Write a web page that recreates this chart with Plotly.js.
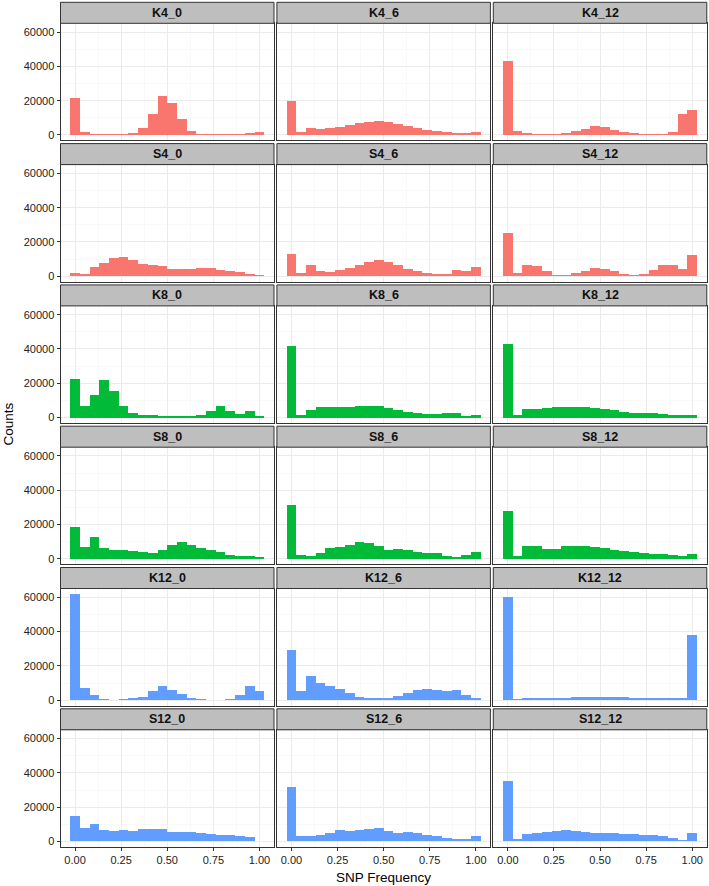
<!DOCTYPE html>
<html>
<head>
<meta charset="utf-8">
<script src="https://cdn.plot.ly/plotly-3.0.1.min.js"></script>
<style>html,body{margin:0;padding:0;background:#fff;}#chart{width:709px;height:886px;}</style>
</head>
<body>
<div id="chart"></div>
<script>
// Bin centres (20 bins spanning 0..1)
const binCenters = [0.000,0.0526,0.1053,0.1579,0.2105,0.2632,0.3158,0.3684,0.4211,0.4737,0.5263,0.5789,0.6316,0.6842,0.7368,0.7895,0.8421,0.8947,0.9474,1.000];
const binWidth = 0.05263;

const panelNames = ["K4_0","K4_6","K4_12","S4_0","S4_6","S4_12","K8_0","K8_6","K8_12","S8_0","S8_6","S8_12","K12_0","K12_6","K12_12","S12_0","S12_6","S12_12"];
const groupColors = {"4":"#F8766D","8":"#00BA38","12":"#619CFF"};

const K4_0  = [21300,1900,400,400,400,500,1000,3900,12000,23000,18600,9500,2300,600,400,400,400,400,1100,1500];
const K4_6  = [19800,1900,4100,3300,4100,4900,5800,7200,7800,8100,7600,6400,5200,4100,3100,2500,1700,1400,1200,1600];
const K4_12 = [42900,2100,1200,400,400,800,1400,2300,3700,5200,4500,2900,1700,1200,800,600,600,1700,12400,14400];
const S4_0  = [2100,1400,5200,7800,10700,11100,9300,7200,6400,5800,4500,4300,4300,4900,4900,3900,2900,2500,1400,600];
const S4_6  = [12800,2100,6400,3100,2300,3500,5000,6600,8300,9700,8300,6600,4500,3100,1900,1600,1600,3700,3100,5400];
const S4_12 = [25400,1700,6400,5800,2900,1000,800,1700,3300,4900,4300,2900,1600,800,1600,3700,6800,6800,4500,12200];
const K8_0  = [22500,6800,13400,21900,15500,6600,2700,1700,1400,1000,800,1000,1200,1400,3900,6800,3700,2100,3900,1000];
const K8_6  = [41900,1600,4500,6000,6000,6000,6400,6600,6600,6600,5400,4500,3500,2700,2300,2300,2900,2500,1000,1400];
const K8_12 = [42900,1400,4900,4900,5600,6000,6200,6200,6000,5400,4900,4300,3500,2900,2500,2500,2300,1700,1600,1600];
const S8_0  = [18800,7000,13000,6600,5400,5200,4700,4100,3700,5400,8300,9900,8100,6400,5400,4100,2500,1900,1700,1000];
const S8_6  = [31600,2500,1600,3300,6200,7000,8100,10100,9300,7600,5400,6000,5400,4300,3700,3300,1700,1000,2500,3900];
const S8_12 = [28100,1900,7800,7400,5600,5800,7400,7800,7400,7000,6200,5200,4700,3900,3300,2700,2900,2500,1900,2900];
const K12_0 = [62000,7000,3200,600,400,500,1000,2000,5500,8500,6000,3500,1500,500,400,400,500,3000,8500,5500];
const K12_6 = [29000,5500,14000,10000,8500,6500,4000,2000,1000,1000,1500,2500,4000,6000,6500,6000,5500,6000,3000,1500];
const K12_12= [60000,500,1000,1200,1300,1400,1500,1600,1700,1800,1800,1700,1600,1500,1400,1300,1200,1200,1500,38000];
const S12_0 = [15000,8000,10000,6500,6000,6500,6000,7000,7500,7500,5500,5500,5500,5000,4500,4000,3500,3000,2500,500];
const S12_6 = [32000,3000,3000,3500,5000,6500,6000,6500,7000,8000,6000,5000,5500,5000,4000,3000,2000,1500,1500,3000];
const S12_12= [35000,1500,4500,5000,5500,6000,6500,6000,5500,5000,5000,5000,4500,4500,4000,3500,3000,2000,1000,5000];

const panelValues = [K4_0,K4_6,K4_12,S4_0,S4_6,S4_12,K8_0,K8_6,K8_12,S8_0,S8_6,S8_12,K12_0,K12_6,K12_12,S12_0,S12_6,S12_12];

const xTickVals = [0,0.25,0.5,0.75,1];
const xTickText = ["0.00","0.25","0.50","0.75","1.00"];
const yTickVals = [0,20000,40000,60000];
const yTickText = ["0","20000","40000","60000"];

// Layout geometry (pixels)
const W = 709, H = 886;
const colLeft = [60.5, 276.9, 493.3];
const panelW = 213.5;
const rowPitch = 141.3, firstStripTop = 2.3, stripH = 21, plotH = 117;

const FONT = "Liberation Sans, Arial, Helvetica, sans-serif";
const traces = [];
const layout = {
  width: W, height: H,
  margin: {l:0, r:0, t:0, b:0},
  paper_bgcolor: "#ffffff", plot_bgcolor: "#ffffff",
  showlegend: false, bargap: 0,
  font: {family: FONT, size: 11, color: "#333333"},
  shapes: [], annotations: []
};

panelNames.forEach((name, i) => {
  const r = Math.floor(i / 3), c = i % 3;
  const grp = name.match(/^[KS](\d+)_/)[1];
  const n = i + 1;
  const xa = n === 1 ? "x" : "x" + n;
  const ya = n === 1 ? "y" : "y" + n;
  traces.push({
    type: "bar", x: binCenters, y: panelValues[i], width: binWidth,
    xaxis: xa, yaxis: ya,
    marker: {color: groupColors[grp], line: {width: 0}},
    hoverinfo: "x+y"
  });
  const stripTop = firstStripTop + r * rowPitch;
  const plotTop = stripTop + stripH;
  const x0 = colLeft[c] / W, x1 = (colLeft[c] + panelW) / W;
  const yTop = 1 - plotTop / H, yBot = 1 - (plotTop + plotH) / H;
  const bottomRow = r === 5, leftCol = c === 0;
  layout["xaxis" + (n === 1 ? "" : n)] = {
    domain: [x0, x1], anchor: ya, range: [-0.0789, 1.0789],
    tickvals: xTickVals, ticktext: xTickText,
    showticklabels: bottomRow, ticks: bottomRow ? "outside" : "", ticklen: 3, tickcolor: "#333333",
    tickfont: {family: FONT, size: 11, color: "#222222"},
    showgrid: true, gridcolor: "#EBEBEB", gridwidth: 1,
    minor: {tickvals: [0.125,0.375,0.625,0.875], showgrid: true, gridcolor: "#F5F5F5", gridwidth: 0.6, ticks: ""},
    zeroline: false, showline: true, mirror: true, linecolor: "#333333", linewidth: 1,
    fixedrange: true
  };
  layout["yaxis" + (n === 1 ? "" : n)] = {
    domain: [yBot, yTop], anchor: xa, range: [-3100, 65100],
    tickvals: yTickVals, ticktext: yTickText,
    showticklabels: leftCol, ticks: leftCol ? "outside" : "", ticklen: 3, tickcolor: "#333333",
    tickfont: {family: FONT, size: 11, color: "#222222"},
    showgrid: true, gridcolor: "#EBEBEB", gridwidth: 1,
    minor: {tickvals: [10000,30000,50000], showgrid: true, gridcolor: "#F5F5F5", gridwidth: 0.6, ticks: ""},
    zeroline: false, showline: true, mirror: true, linecolor: "#333333", linewidth: 1,
    fixedrange: true
  };
  // strip
  layout.shapes.push({
    type: "rect", xref: "paper", yref: "paper",
    x0: x0, x1: x1, y0: yTop, y1: 1 - stripTop / H,
    fillcolor: "#BEBEBE", line: {color: "#333333", width: 1}, layer: "above"
  });
  layout.annotations.push({
    xref: "paper", yref: "paper", x: (x0 + x1) / 2, y: 1 - (stripTop + stripH / 2) / H,
    text: "<b>" + name + "</b>", showarrow: false, xanchor: "center", yanchor: "middle",
    font: {family: FONT, size: 12.5, color: "#111111"}
  });
});

layout.annotations.push({
  xref: "paper", yref: "paper", x: 8 / W, y: 1 - 424.5 / H,
  text: "Counts", textangle: -90, showarrow: false, xanchor: "center", yanchor: "middle",
  font: {family: FONT, size: 13.5, color: "#000000"}
});
layout.annotations.push({
  xref: "paper", yref: "paper", x: 383.6 / W, y: 1 - 877 / H,
  text: "SNP Frequency", showarrow: false, xanchor: "center", yanchor: "middle",
  font: {family: FONT, size: 13.5, color: "#000000"}
});

Plotly.newPlot("chart", traces, layout, {staticPlot: true, displayModeBar: false});
</script>
</body>
</html>
